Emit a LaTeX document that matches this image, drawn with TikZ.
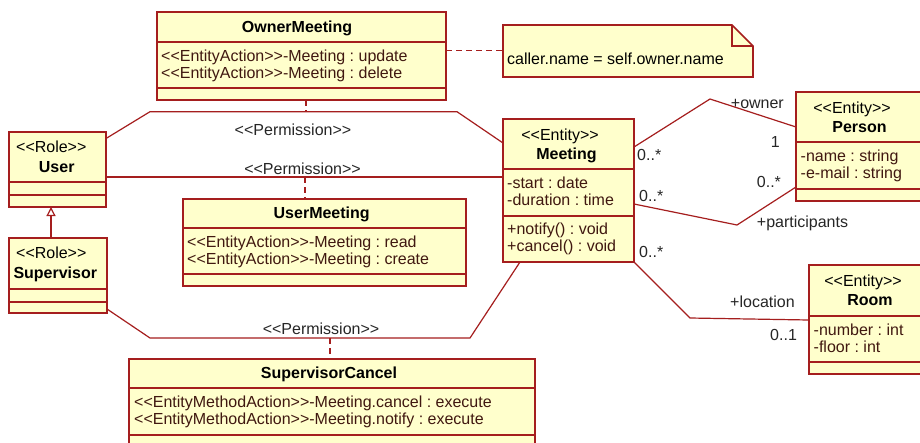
\documentclass[tikz,border=0pt]{standalone}
\usepackage{fontspec}
\setmainfont{Liberation Sans}
\usetikzlibrary{arrows.meta}
\definecolor{umlline}{RGB}{165,30,30}
\definecolor{umlfill}{RGB}{255,255,204}
\definecolor{attrtxt}{RGB}{64,24,16}
\newcommand\umlcomp[2]{\draw[sep] ([yshift=-#2pt]#1.north west) -- ([yshift=-#2pt]#1.north east);}
\newcommand\stereo[1]{<\kern0pt<#1>\kern0pt>}
\frenchspacing
\begin{document}
\begin{tikzpicture}[x=1pt,y=-1pt, font=\fontsize{16}{17}\selectfont\frenchspacing,
 cls/.style={draw=umlline, fill=umlfill, line width=1.6pt, inner sep=0pt, outer sep=0pt, anchor=north west, rectangle},
 sep/.style={draw=umlline, line width=1.6pt},
 conn/.style={draw=umlline, line width=1.2pt},
 dashconn/.style={conn, dash pattern=on 6pt off 4pt},
 txt/.style={inner sep=0pt, anchor=base west, text=attrtxt},
 ttl/.style={inner sep=0pt, anchor=base, font=\fontsize{16}{17}\selectfont\bfseries, text=black},
 ster/.style={inner sep=0pt, anchor=base, text=black},
 lbl/.style={inner sep=0pt, anchor=base west, text=black!85}]
\useasboundingbox (0,0) rectangle (920,442);
\fill[white] (0,0) rectangle (920,442);
\clip (0,0) rectangle (920,442);

% ---- class boxes (placed first for names) ----
\node[cls, minimum width=289pt, minimum height=88pt] (om) at (157,12) {};
\node[inner sep=0pt, outer sep=0pt, minimum width=250pt, minimum height=52pt, anchor=north west] (note) at (503,25) {};
\node[cls, minimum width=97pt, minimum height=75pt] (user) at (9,132) {};
\node[cls, minimum width=98pt, minimum height=75pt] (sup) at (9,238) {};
\node[cls, minimum width=283pt, minimum height=87pt] (um) at (183,199) {};
\node[cls, minimum width=131pt, minimum height=143pt] (mt) at (503,119) {};
\node[cls, minimum width=127pt, minimum height=109pt] (person) at (796,92) {};
\node[cls, minimum width=118pt, minimum height=109pt] (room) at (809,265) {};
\node[cls, minimum width=406pt, minimum height=100pt] (sc) at (129,359) {};

% ---- connectors ----
\coordinate (b1) at (150,111.7);
\coordinate (b2) at (457,111.7);
\coordinate (d1) at (306,111.7);
\draw[conn] ([yshift=-6.5pt]user.north east) -- (b1) -- (b2) -- ([yshift=-24pt]mt.north west);
\draw[dashconn] (om.south west -| d1) -- (d1);

\coordinate (d2) at (305,177);
\draw[conn] ([yshift=-45pt]user.north east) -- ([yshift=-58pt]mt.north west);
\draw[dashconn] (d2) -- (um.north -| d2);

\coordinate (b3) at (150,338);
\coordinate (b4) at (470,338);
\coordinate (d3) at (330,338);
\draw[conn] ([yshift=-71pt]sup.north east) -- (b3) -- (b4) -- ([xshift=17pt]mt.south west);
\draw[dashconn] (d3) -- (sc.north -| d3);

\draw[dashconn] ([yshift=-38.7pt]om.north east) -- ([yshift=-25.7pt]note.north west);

\coordinate (b5) at (710,99);
\draw[conn] ([yshift=-28pt]mt.north east) -- (b5) -- ([yshift=-35pt]person.north west);
\coordinate (b6) at (737,225);
\draw[conn] ([yshift=-85pt]mt.north east) -- (b6) -- ([yshift=-95pt]person.north west);
\coordinate (b7) at (690,318);
\draw[conn] (mt.south east) -- (b7) -- ([yshift=-55pt]room.north west);

\draw[conn, -{Triangle[open, length=9pt, width=9pt, fill=white]}] ([xshift=42pt]sup.north west) -- ([xshift=42pt]user.south west);

% ---- redraw boxes on top ----
\foreach \n in {om,user,sup,um,mt,person,room,sc}{
  \draw[draw=umlline, fill=umlfill, line width=1.6pt] (\n.north west) rectangle (\n.south east);
}
\umlcomp{om}{30}\umlcomp{om}{76}
\umlcomp{user}{50}\umlcomp{user}{63}
\umlcomp{sup}{51}\umlcomp{sup}{64}
\umlcomp{um}{29}\umlcomp{um}{75}
\umlcomp{mt}{50}\umlcomp{mt}{97}
\umlcomp{person}{50}\umlcomp{person}{97}
\umlcomp{room}{51}\umlcomp{room}{97}
\umlcomp{sc}{29}\umlcomp{sc}{76}

% note shape
\draw[draw=umlline, fill=umlfill, line width=1.6pt] (note.north west) -- ([xshift=-21pt]note.north east) -- ([yshift=-21pt]note.north east) -- (note.south east) -- (note.south west) -- cycle;
\draw[sep] ([xshift=-21pt]note.north east) -- ([xshift=-21pt,yshift=-21pt]note.north east) -- ([yshift=-21pt]note.north east);

% ---- texts ----
\node[ttl] (omT) at (297,32) {OwnerMeeting};
\node[txt] (omA1) at (161,61) {\stereo{EntityAction}-Meeting : update};
\node[txt] (omA2) at (161,78) {\stereo{EntityAction}-Meeting : delete};
\node[lbl, text=black] (noteT) at (507,64) {caller.name = self.owner.name};

\node[ster] (userS) at (51.3,152) {\stereo{Role}};
\node[ttl] (userT) at (56.7,172) {User};
\node[ster] (supS) at (51.3,258) {\stereo{Role}};
\node[ttl] (supT) at (55.3,278) {Supervisor};

\node[ttl] (umT) at (321.7,218) {UserMeeting};
\node[txt] (umA1) at (187,247) {\stereo{EntityAction}-Meeting : read};
\node[txt] (umA2) at (187,264) {\stereo{EntityAction}-Meeting : create};

\node[ster] (mtS) at (560,140) {\stereo{Entity}};
\node[ttl] (mtT) at (566.5,159) {Meeting};
\node[txt] (mtA1) at (507,188) {-start : date};
\node[txt] (mtA2) at (507,205) {-duration : time};
\node[txt] (mtO1) at (507,234.5) {+notify() : void};
\node[txt] (mtO2) at (507,251.5) {+cancel() : void};

\node[ster] (pS) at (852,113) {\stereo{Entity}};
\node[ttl] (pT) at (859.5,132) {Person};
\node[txt] (pA1) at (800.5,161) {-name : string};
\node[txt] (pA2) at (800.5,178) {-e-mail : string};

\node[ster] (rS) at (863,286) {\stereo{Entity}};
\node[ttl] (rT) at (870,305) {Room};
\node[txt] (rA1) at (813.5,335) {-number : int};
\node[txt] (rA2) at (813.5,352) {-floor : int};

\node[ttl] (scT) at (329,378.5) {SupervisorCancel};
\node[txt] (scA1) at (134,407) {\stereo{EntityMethodAction}-Meeting.cancel : execute};
\node[txt] (scA2) at (134,424) {\stereo{EntityMethodAction}-Meeting.notify : execute};

% ---- connector labels ----
\node[ster, text=black!85] (p1L) at (293,135.5) {\stereo{Permission}};
\node[ster, text=black!85] (p2L) at (302.5,174) {\stereo{Permission}};
\node[ster, text=black!85] (p3L) at (321,334.5) {\stereo{Permission}};

\node[lbl] (oM) at (637,160) {0..*};
\node[lbl] (oR) at (730.7,108) {+owner};
\node[lbl] (oP) at (770.7,147.5) {1};
\node[lbl] (paM) at (639,201.5) {0..*};
\node[lbl] (paP) at (756.7,187.5) {0..*};
\node[lbl] (paR) at (756.7,227.5) {+participants};
\node[lbl] (lM) at (639,257.5) {0..*};
\node[lbl] (lR) at (730,307.5) {+location};
\node[lbl] (lP) at (770,340.5) {0..1};
\end{tikzpicture}
\end{document}
